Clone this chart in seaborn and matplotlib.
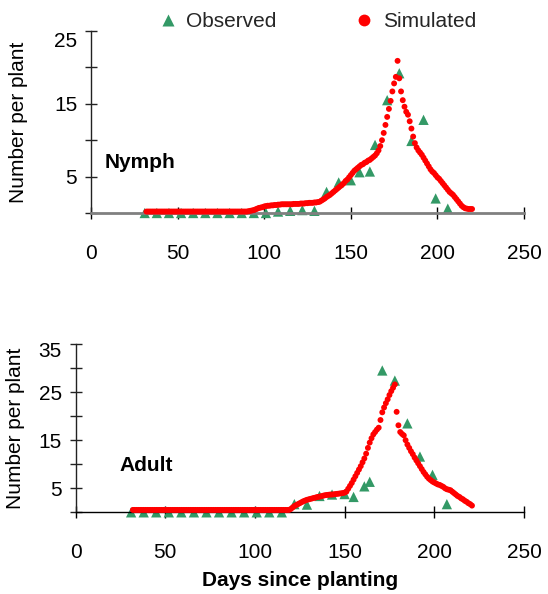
import matplotlib
matplotlib.use("Agg")
import matplotlib.pyplot as plt
from matplotlib.lines import Line2D
from matplotlib.ticker import FixedLocator, FixedFormatter
from matplotlib.transforms import ScaledTranslation
import seaborn as sns
import pandas as pd

# ---------------- data ----------------
obs_days_nymph = [31, 38, 45, 52, 59, 66, 73, 80, 87, 94, 101, 108, 115, 122, 129,
                  136, 143, 150, 155, 161, 164, 171, 178, 185, 192, 199, 206]
obs_nymph = [0, 0, 0, 0, 0, 0, 0, 0, 0, 0, 0, 0.2, 0.3, 0.4, 0.3,
             2.9, 4.2, 4.5, 5.6, 5.7, 9.35, 15.5, 19.2, 9.9, 12.8, 2.0, 0.6]

sim_days_nymph = list(range(32, 221))
sim_nymph = [
    # days 32-90
    0.2, 0.2, 0.2, 0.2, 0.2, 0.2, 0.2, 0.2, 0.2, 0.2,
    0.2, 0.2, 0.2, 0.2, 0.2, 0.2, 0.2, 0.2, 0.2, 0.2,
    0.2, 0.2, 0.2, 0.2, 0.2, 0.2, 0.2, 0.2, 0.2, 0.2,
    0.2, 0.2, 0.2, 0.2, 0.2, 0.2, 0.2, 0.2, 0.2, 0.2,
    0.2, 0.2, 0.2, 0.2, 0.2, 0.2, 0.2, 0.2, 0.2, 0.2,
    0.2, 0.2, 0.2, 0.2, 0.2, 0.2, 0.2, 0.2, 0.2,
    # days 91-130
    0.25, 0.3, 0.35, 0.4, 0.5, 0.6, 0.7, 0.75, 0.8, 0.9,
    0.95, 1.0, 1.0, 1.05, 1.05, 1.1, 1.1, 1.15, 1.15, 1.2,
    1.2, 1.2, 1.2, 1.2, 1.2, 1.2, 1.25, 1.25, 1.25, 1.25,
    1.3, 1.3, 1.3, 1.35, 1.35, 1.4, 1.4, 1.4, 1.45, 1.45,
    # days 131-170
    1.5, 1.55, 1.7, 1.85, 2.0, 2.2, 2.35, 2.5, 2.7, 2.9,
    3.1, 3.3, 3.5, 3.7, 3.9, 4.1, 4.4, 4.6, 4.9, 5.2,
    5.5, 5.8, 6.0, 6.2, 6.4, 6.6, 6.7, 6.9, 7.0, 7.2,
    7.3, 7.5, 7.7, 7.9, 8.2, 8.6, 9.2, 10.0, 11.0, 12.1,
    # days 171-220
    13.2, 14.3, 15.4, 16.7, 17.8, 18.7, 20.9, 18.5, 16.7, 15.5,
    14.6, 13.9, 13.5, 12.6, 11.6, 10.5, 9.6, 9.0, 8.6, 8.3,
    8.0, 7.6, 7.2, 6.8, 6.4, 6.0, 5.7, 5.5, 5.2, 4.9,
    4.7, 4.4, 4.1, 3.8, 3.5, 3.2, 2.9, 2.7, 2.5, 2.2,
    1.9, 1.6, 1.3, 1.0, 0.8, 0.65, 0.6, 0.55, 0.55, 0.55,
]

obs_days_adult = [31, 38, 45, 52, 59, 66, 73, 80, 87, 94, 101, 108, 115, 122, 129,
                  136, 143, 150, 155, 161, 164, 171, 178, 185, 192, 199, 207]
obs_adult = [0, 0, 0, 0, 0, 0, 0, 0, 0, 0, 0, 0, 0, 1.7, 1.6,
             3.4, 3.7, 3.8, 3.2, 5.4, 6.35, 29.5, 27.4, 18.5, 11.6, 7.8, 1.7]

sim_days_adult = list(range(32, 222))
sim_adult = [
    # days 32-119
    0.5, 0.5, 0.5, 0.5, 0.5, 0.5, 0.5, 0.5, 0.5, 0.5,
    0.5, 0.5, 0.5, 0.5, 0.5, 0.5, 0.5, 0.5, 0.5, 0.5,
    0.5, 0.5, 0.5, 0.5, 0.5, 0.5, 0.5, 0.5, 0.5, 0.5,
    0.5, 0.5, 0.5, 0.5, 0.5, 0.5, 0.5, 0.5, 0.5, 0.5,
    0.5, 0.5, 0.5, 0.5, 0.5, 0.5, 0.5, 0.5, 0.5, 0.5,
    0.5, 0.5, 0.5, 0.5, 0.5, 0.5, 0.5, 0.5, 0.5, 0.5,
    0.5, 0.5, 0.5, 0.5, 0.5, 0.5, 0.5, 0.5, 0.5, 0.5,
    0.5, 0.5, 0.5, 0.5, 0.5, 0.5, 0.5, 0.5, 0.5, 0.5,
    0.5, 0.5, 0.5, 0.5, 0.5, 0.5, 0.5, 0.5,
    # days 120-169
    0.7, 1.0, 1.3, 1.5, 1.7, 1.9, 2.1, 2.3, 2.45, 2.6,
    2.7, 2.8, 2.9, 3.0, 3.1, 3.2, 3.25, 3.35, 3.45, 3.55,
    3.6, 3.65, 3.7, 3.7, 3.75, 3.8, 3.85, 3.9, 3.95, 4.0,
    4.1, 4.3, 4.9, 5.5, 6.1, 6.8, 7.5, 8.2, 8.9, 9.6,
    10.4, 11.2, 12.2, 13.4, 14.5, 15.4, 16.2, 16.7, 17.2, 17.6,
    # days 170-221
    19.2, 20.8, 21.8, 22.7, 23.5, 24.4, 25.2, 25.9, 26.6, 20.9,
    18.1, 16.7, 16.3, 16.0, 15.0, 14.1, 13.4, 12.7, 12.1, 11.4,
    10.8, 10.2, 9.6, 9.0, 8.4, 7.9, 7.4, 7.0, 6.7, 6.4,
    6.2, 6.0, 5.8, 5.7, 5.5, 5.3, 5.0, 4.8, 4.7, 4.6,
    4.3, 4.0, 3.7, 3.4, 3.2, 2.9, 2.7, 2.4, 2.2, 1.9,
    1.7, 1.4,
]

x_ticks = [0, 50, 100, 150, 200, 250]
y_ticks_nymph = [0, 5, 10, 15, 20, 25]
y_labels_nymph = ["", "5", "", "15", "", "25"]
y_ticks_adult = [0, 5, 10, 15, 20, 25, 30, 35]
y_labels_adult = ["", "5", "", "15", "", "25", "", "35"]

# ---------------- style ----------------
sns.set_theme(style="ticks")
plt.rcParams["font.family"] = ["Liberation Sans", "DejaVu Sans"]

GREEN = "#339966"
RED = "#ff0000"
FS = 15

fig = plt.figure(figsize=(5.48, 5.94), dpi=100)
ax1 = fig.add_axes([0.1661, 0.6414, 0.7901, 0.3064])
ax2 = fig.add_axes([0.1378, 0.1375, 0.8184, 0.2833])

panels = [
    (ax1, obs_days_nymph, obs_nymph, sim_days_nymph, sim_nymph, 25,
     y_ticks_nymph, y_labels_nymph, "Nymph", 0.032, 0.275, -0.145, 8),
    (ax2, obs_days_adult, obs_adult, sim_days_adult, sim_adult, 35,
     y_ticks_adult, y_labels_adult, "Adult", 0.099, 0.28, -0.113, 5),
]

for ax, od, ov, sd, sv, ymax, yt, yl, name, tx, ty, ylx, top_shift in panels:
    obs_df = pd.DataFrame({"day": od, "value": ov})
    sim_df = pd.DataFrame({"day": sd, "value": sv})
    sns.scatterplot(data=obs_df, x="day", y="value", ax=ax, color=GREEN,
                    marker="^", s=55, edgecolor="none", clip_on=False,
                    zorder=2, legend=False)
    sns.scatterplot(data=sim_df, x="day", y="value", ax=ax, color=RED,
                    marker="o", s=18, edgecolor="none", clip_on=False,
                    zorder=3, legend=False)
    ax.set_xlim(0, 250)
    ax.set_ylim(0, ymax)
    ax.xaxis.set_major_locator(FixedLocator(x_ticks))
    ax.yaxis.set_major_locator(FixedLocator(yt))
    ax.yaxis.set_major_formatter(FixedFormatter(yl))
    for sp in ["top", "right"]:
        ax.spines[sp].set_visible(False)
    ax.spines["left"].set_color("#222222")
    ax.spines["left"].set_linewidth(1.0)
    ax.tick_params(axis="x", direction="inout", length=8.5, width=1.0,
                   color="black", labelsize=FS, pad=18, labelcolor="black")
    ax.tick_params(axis="y", direction="inout", length=8, width=1.0,
                   color="#222222", labelsize=FS, pad=6, labelcolor="black")
    ax.set_xlabel("")
    ax.set_ylabel("Number per plant", fontsize=FS, color="black")
    ax.yaxis.set_label_coords(ylx, 0.5)
    ax.text(tx, ty, name, transform=ax.transAxes, fontsize=FS,
            fontweight="bold", ha="left", va="center", color="black")
    # topmost y tick label sits a little lower in the reference
    top_lbl = ax.yaxis.get_major_ticks()[-1].label1
    top_lbl.set_transform(top_lbl.get_transform() +
                          ScaledTranslation(0, -top_shift / 100, fig.dpi_scale_trans))

ax1.spines["bottom"].set_color("#808080")
ax1.spines["bottom"].set_linewidth(2.0)
ax2.spines["bottom"].set_color("black")
ax2.spines["bottom"].set_linewidth(1.0)

ax2.set_xlabel("Days since planting", fontsize=FS, fontweight="bold",
               color="black", labelpad=6)

handles = [
    Line2D([], [], marker="^", color=GREEN, ls="", markersize=8,
           markeredgecolor="none", label="Observed"),
    Line2D([], [], marker="o", color=RED, ls="", markersize=8.5,
           markeredgecolor="none", label="Simulated"),
]
fig.legend(handles=handles, loc="center", bbox_to_anchor=(0.58, 0.963),
           ncol=2, frameon=False, fontsize=FS, handlelength=0.8,
           handletextpad=0.5, columnspacing=3.8, borderaxespad=0)

fig.savefig("out.png", dpi=100)
